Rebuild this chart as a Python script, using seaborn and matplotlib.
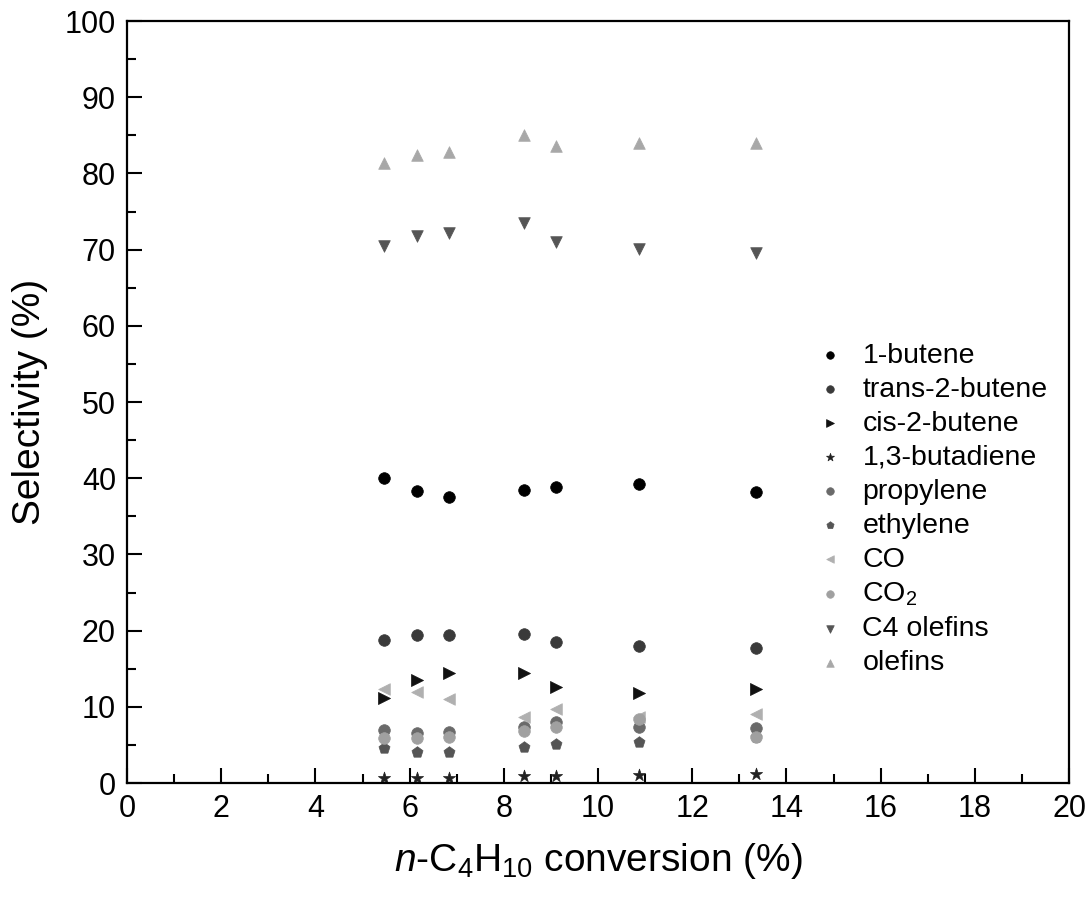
import matplotlib
matplotlib.use('Agg')
import matplotlib.pyplot as plt
import seaborn as sns
import pandas as pd
from matplotlib.ticker import MultipleLocator

# n-C4H10 conversion (%)
conversion = [5.46, 6.16, 6.84, 8.43, 9.11, 10.87, 13.35]

# selectivities (%)
butene_1 = [40.0, 38.3, 37.6, 38.5, 38.9, 39.3, 38.2]
trans_2_butene = [18.8, 19.4, 19.4, 19.6, 18.5, 18.0, 17.7]
cis_2_butene = [11.2, 13.5, 14.5, 14.4, 12.6, 11.8, 12.3]
butadiene = [0.7, 0.6, 0.6, 0.9, 0.9, 1.1, 1.2]
propylene = [6.9, 6.6, 6.7, 7.4, 8.0, 7.4, 7.2]
ethylene = [4.6, 4.1, 4.1, 4.7, 5.1, 5.4, 6.0]
co = [12.3, 12.0, 11.0, 8.6, 9.7, 8.7, 9.0]
co2 = [5.9, 5.9, 6.0, 6.8, 7.3, 8.4, 6.0]
c4_olefins = [70.5, 71.8, 72.2, 73.5, 71.0, 70.1, 69.5]
olefins = [81.4, 82.4, 82.8, 85.0, 83.6, 84.0, 84.0]

labels = ['1-butene', 'trans-2-butene', 'cis-2-butene', '1,3-butadiene',
          'propylene', 'ethylene', 'CO', 'CO$_2$', 'C4 olefins', 'olefins']
series = [butene_1, trans_2_butene, cis_2_butene, butadiene, propylene,
          ethylene, co, co2, c4_olefins, olefins]
markers = ['o', 'o', '>', '*', 'o', 'p', '<', 'o', 'v', '^']
colors = ['#000000', '#3a3a3a', '#111111', '#222222', '#6a6a6a',
          '#555555', '#b0b0b0', '#a0a0a0', '#555555', '#a8a8a8']
sizes = [70, 70, 75, 85, 70, 70, 70, 70, 70, 70]

sns.set_style('white')
plt.rcParams['font.family'] = ['Liberation Sans', 'DejaVu Sans']
plt.rcParams['mathtext.fontset'] = 'custom'
plt.rcParams['mathtext.rm'] = 'Liberation Sans'
plt.rcParams['mathtext.it'] = 'Liberation Sans:italic'
plt.rcParams['text.color'] = 'black'
plt.rcParams['axes.labelcolor'] = 'black'
plt.rcParams['xtick.color'] = 'black'
plt.rcParams['ytick.color'] = 'black'

fig = plt.figure(figsize=(10.92, 9.02), dpi=100)
ax = fig.add_axes([0.1163, 0.1319, 0.8627, 0.8448])

for lab, vals, m, c, s in zip(labels, series, markers, colors, sizes):
    df = pd.DataFrame({'conv': conversion, 'sel': vals})
    sns.scatterplot(data=df, x='conv', y='sel', marker=m, color=c, s=s,
                    edgecolor=c, linewidth=0.5, label=lab, ax=ax, clip_on=False)

ax.set_xlim(0, 20)
ax.set_ylim(0, 100)
ax.xaxis.set_major_locator(MultipleLocator(2))
ax.xaxis.set_minor_locator(MultipleLocator(1))
ax.yaxis.set_major_locator(MultipleLocator(10))
ax.yaxis.set_minor_locator(MultipleLocator(5))
ax.tick_params(which='both', direction='in', labelsize=22, width=1.5,
               bottom=True, left=True, top=False, right=False)
ax.tick_params(which='major', length=11, pad=8)
ax.tick_params(which='minor', length=6.5)
for sp in ax.spines.values():
    sp.set_linewidth(1.6)
    sp.set_color('black')

ax.set_xlabel(r'$\mathit{n}$-C$_4$H$_{10}$ conversion (%)', fontsize=28, labelpad=12)
ax.set_ylabel('Selectivity (%)', fontsize=28, labelpad=12)

ax.legend(loc='center left', bbox_to_anchor=(0.696, 0.359), frameon=False,
          fontsize=20.5, labelspacing=0.28, handlelength=1.5,
          handletextpad=0.4, markerscale=0.65)

fig.savefig('out.png', dpi=100)
